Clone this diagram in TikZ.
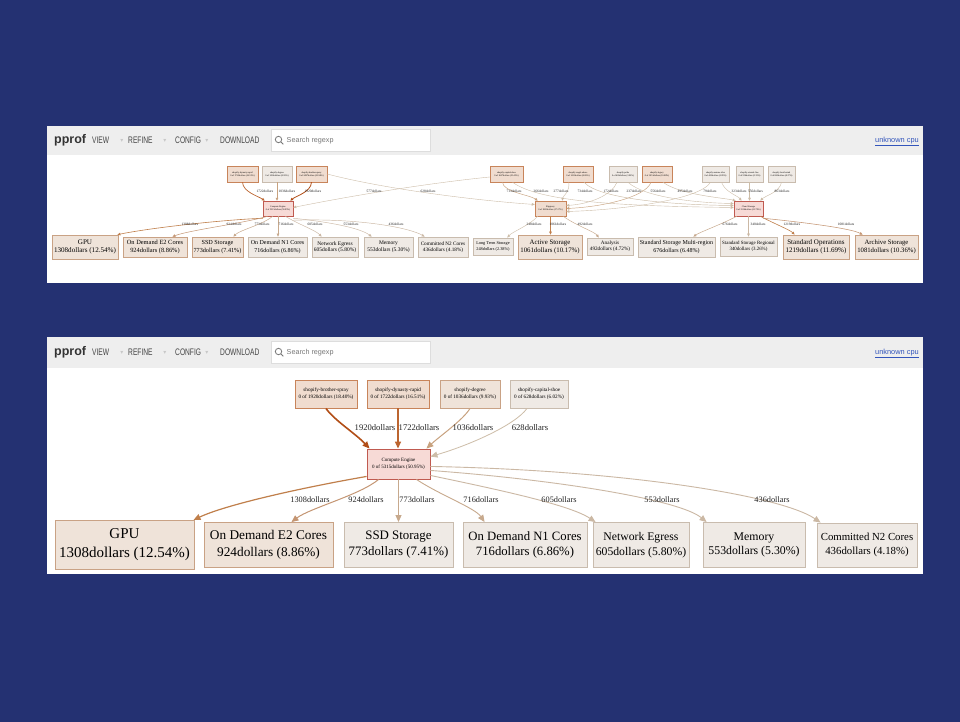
\documentclass[tikz,border=0pt]{standalone}
\usepackage{fontspec}
\setmainfont{Liberation Serif}
\newfontfamily\uisans{Liberation Sans}
\newfontfamily\symfont{DejaVu Sans}
\usetikzlibrary{arrows.meta}
\definecolor{navy}{HTML}{243172}
\definecolor{hdrgray}{HTML}{EEEEEE}
\definecolor{hdrtext}{HTML}{333333}
\definecolor{menutext}{HTML}{444444}
\definecolor{caretgray}{HTML}{C8C8C8}
\definecolor{boxgray}{HTML}{DDDDDD}
\definecolor{searchtext}{HTML}{777777}
\definecolor{linkblue}{HTML}{3355BB}
\definecolor{coldfill}{HTML}{EFEAE5}
\definecolor{coldline}{HTML}{C9BCAE}
\definecolor{warmfill}{HTML}{EFE3D9}
\definecolor{warmline}{HTML}{C9A285}
\definecolor{hotfill}{HTML}{F7DAD6}
\definecolor{hotline}{HTML}{C05A50}
\definecolor{srcfill}{HTML}{F0DCCF}
\definecolor{srcline}{HTML}{C8845A}
\definecolor{labtext}{HTML}{222222}
\definecolor{cA}{HTML}{B24E17}
\definecolor{cB}{HTML}{BC6530}
\definecolor{cC}{HTML}{C8A27F}
\definecolor{cD}{HTML}{CDBDA8}
\definecolor{cE}{HTML}{C07F4B}
\definecolor{cF}{HTML}{C49572}
\definecolor{cG}{HTML}{C7A98D}
\definecolor{cH}{HTML}{CBB8A4}
\newcommand\fsz[2]{\fontsize{#1}{#2}\selectfont}
\newcommand\menu[1]{\scalebox{0.7}[1]{#1}}
\tikzset{
  gbox/.style={draw, rectangle, inner sep=0pt, align=center, line width=0.9pt, text=black},
  cold/.style={gbox, fill=coldfill, draw=coldline},
  warm/.style={gbox, fill=warmfill, draw=warmline},
  hot/.style={gbox, fill=hotfill, draw=hotline},
  srcn/.style={gbox, fill=srcfill, draw=srcline},
  tiny/.style={line width=0.5pt},
  wh/.style 2 args={minimum width=#1, minimum height=#2},
  elab/.style={inner sep=0pt, text=labtext},
  arr/.style={-{Triangle[length=7pt,width=6pt]}},
  arrs/.style={-{Triangle[length=3pt,width=2.6pt]}},
  menuitem/.style={anchor=west, inner sep=0pt, text=menutext, font=\uisans\fsz{9.5}{9.5}},
  caret/.style={inner sep=0pt, text=caretgray, font=\symfont\fsz{6}{6}},
}
\newcommand\pprofheader[3]{%
  \fill[hdrgray] (47,#1) rectangle (923,#2);
  \node[anchor=west, inner sep=0pt, text=hdrtext, font=\uisans\bfseries\fsz{12.5}{12.5}] (#3pp) at (54,{(#1+#2)/2}) {pprof};
  \node[menuitem] (#3view) at (92,{(#1+#2)/2}) {\menu{VIEW}};
  \node[caret] (#3c1) at (122,{(#1+#2)/2}) {▾};
  \node[menuitem] (#3refine) at (128,{(#1+#2)/2}) {\menu{REFINE}};
  \node[caret] (#3c2) at (165,{(#1+#2)/2}) {▾};
  \node[menuitem] (#3config) at (175,{(#1+#2)/2}) {\menu{CONFIG}};
  \node[caret] (#3c3) at (207,{(#1+#2)/2}) {▾};
  \node[menuitem] (#3dl) at (220,{(#1+#2)/2}) {\menu{DOWNLOAD}};
  \node[draw=boxgray, fill=white, line width=0.6pt, inner sep=0pt, minimum width=159, minimum height=22] (#3sb) at (350.5,{(#1+#2)/2}) {};
  \draw[searchtext, line width=0.8pt] (278.5,{(#1+#2)/2-1}) circle (3.2);
  \draw[searchtext, line width=0.9pt] (280.8,{(#1+#2)/2+1.3}) -- (283.3,{(#1+#2)/2+3.8});
  \node[anchor=west, inner sep=0pt, text=searchtext, font=\uisans\fsz{7.2}{7.2}] (#3st) at (286.5,{(#1+#2)/2}) {Search regexp};
  \node[anchor=east, inner sep=0pt, text=linkblue, font=\uisans\fsz{7.4}{7.4}] (#3cpu) at (919,{(#1+#2)/2+1}) {\underline{unknown cpu}};
}
\begin{document}
\begin{tikzpicture}[x=1pt, y=-1pt]
\useasboundingbox (0,0) rectangle (960,722);
\fill[navy] (0,0) rectangle (960,722);
% ================= top screenshot =================
\fill[white] (47,126) rectangle (923,283);
\pprofheader{126}{155}{ta}
% sources
\node[srcn, tiny, wh={31}{16}, font=\fsz{2.3}{2.9}] (tS1) at (242.5,174) {shopify-dynasty-rapid\\0 of 1722dollars (16.51\%)};
\node[cold, tiny, wh={30}{16}, font=\fsz{2.3}{2.9}] (tS2) at (277,174) {shopify-degree\\0 of 1036dollars (9.93\%)};
\node[srcn, tiny, wh={31}{16}, font=\fsz{2.3}{2.9}] (tS3) at (311.5,174) {shopify-brother-spray\\0 of 2497dollars (23.94\%)};
\node[srcn, tiny, wh={33}{16}, font=\fsz{2.3}{2.9}] (tT1) at (506.5,174) {shopify-capital-shoe\\0 of 1607dollars (15.41\%)};
\node[srcn, tiny, wh={30}{16}, font=\fsz{2.3}{2.9}] (tT2) at (578,174) {shopify-angel-obese\\0 of 1011dollars (9.69\%)};
\node[cold, tiny, wh={28}{16}, font=\fsz{2.3}{2.9}] (tT3) at (623,174) {shopify-pride\\0 of 409dollars (3.92\%)};
\node[srcn, tiny, wh={30}{16}, font=\fsz{2.3}{2.9}] (tT4) at (657,174) {shopify-legacy\\0 of 1051dollars (10.08\%)};
\node[cold, tiny, wh={27}{16}, font=\fsz{2.3}{2.9}] (tT5) at (715.5,174) {shopify-mature-idea\\0 of 402dollars (3.85\%)};
\node[cold, tiny, wh={27}{16}, font=\fsz{2.3}{2.9}] (tT6) at (749.5,174) {shopify-eternal-line\\0 of 556dollars (5.33\%)};
\node[cold, tiny, wh={27}{16}, font=\fsz{2.3}{2.9}] (tT7) at (781.5,174) {shopify-lucid-mind\\0 of 863dollars (8.27\%)};
% middle
\node[hot, tiny, wh={30}{15}, font=\fsz{2.3}{2.9}] (tce) at (278,208.5) {Compute Engine\\0 of 5315dollars (50.95\%)};
\node[srcn, tiny, wh={31}{15}, font=\fsz{2.3}{2.9}] (tbq) at (550.5,208.5) {Bigquery\\0 of 1801dollars (17.27\%)};
\node[hot, tiny, wh={29}{15}, font=\fsz{2.3}{2.9}] (tcs) at (748.5,208.5) {Cloud Storage\\0 of 3316dollars (31.79\%)};
% leaves
\node[warm, line width=0.7pt, wh={66}{24}, font=\fsz{7.1}{8.6}] (tgpu) at (85,247) {GPU\\1308dollars (12.54\%)};
\node[warm, line width=0.7pt, wh={64}{20}, font=\fsz{6.4}{7.6}] (te2) at (155,247) {On Demand E2 Cores\\924dollars (8.86\%)};
\node[warm, line width=0.7pt, wh={51}{20}, font=\fsz{6.2}{7.4}] (tssd) at (217.5,247) {SSD Storage\\773dollars (7.41\%)};
\node[cold, line width=0.7pt, wh={59}{20}, font=\fsz{6.0}{7.2}] (tn1) at (277.5,247) {On Demand N1 Cores\\716dollars (6.86\%)};
\node[cold, line width=0.7pt, wh={46}{20}, font=\fsz{5.5}{6.6}] (teg) at (335,247) {Network Egress\\605dollars (5.80\%)};
\node[cold, line width=0.7pt, wh={49}{20}, font=\fsz{5.5}{6.6}] (tmem) at (388.5,247) {Memory\\553dollars (5.30\%)};
\node[cold, line width=0.7pt, wh={50}{20}, font=\fsz{5.2}{6.3}] (tn2) at (443,247) {Committed N2 Cores\\436dollars (4.18\%)};
\node[cold, line width=0.7pt, wh={40}{17}, font=\fsz{4.3}{5.2}] (tlts) at (493,246.5) {Long Term Storage\\248dollars (2.38\%)};
\node[warm, line width=0.7pt, wh={64}{24}, font=\fsz{6.8}{8.4}] (tact) at (550,247) {Active Storage\\1061dollars (10.17\%)};
\node[cold, line width=0.7pt, wh={46}{17}, font=\fsz{5.2}{6.2}] (tana) at (610,246.5) {Analysis\\492dollars (4.72\%)};
\node[cold, line width=0.7pt, wh={77}{20}, font=\fsz{6.0}{7.2}] (tmul) at (676.5,247) {Standard Storage Multi-region\\676dollars (6.48\%)};
\node[cold, line width=0.7pt, wh={57}{19}, font=\fsz{4.9}{5.9}] (treg) at (748.5,246.5) {Standard Storage Regional\\340dollars (3.26\%)};
\node[warm, line width=0.7pt, wh={66}{24}, font=\fsz{7.0}{8.6}] (tops) at (816,247) {Standard Operations\\1219dollars (11.69\%)};
\node[warm, line width=0.7pt, wh={63}{24}, font=\fsz{6.7}{8.4}] (tarc) at (886.5,247) {Archive Storage\\1081dollars (10.36\%)};
% top edges into compute engine
\begin{scope}[arrs]
\draw[cB, line width=0.7pt] (tS1.south) .. controls (243,192) and (258,196) .. ([xshift=2pt]tce.north west);
\draw[cC, line width=0.5pt] (tS2.south) -- (tS2.south |- tce.north);
\draw[cA, line width=0.8pt] (tS3.south) .. controls (311,192) and (296,196) .. ([xshift=-3pt]tce.north east);
\draw[cD, line width=0.4pt] ([yshift=-3pt]tT1.west) .. controls (420,184) and (340,198) .. ([yshift=1pt]tce.east);
\draw[cD, line width=0.4pt] (tS3.east) .. controls (380,188) and (470,200) .. ([yshift=4pt]tbq.west);
% into bigquery
\draw[cC, line width=0.45pt] ([xshift=-4pt]tT1.south) .. controls (503,192) and (530,195) .. ([xshift=3pt]tbq.north west);
\draw[cD, line width=0.4pt] ([xshift=6pt]tT2.south west) .. controls (570,192) and (563,196) .. ([xshift=-4pt]tbq.north east);
\draw[cD, line width=0.4pt] ([xshift=-6pt]tT3.south) .. controls (612,195) and (590,204) .. ([yshift=3pt]tbq.east);
\draw[cC, line width=0.45pt] ([xshift=-6pt]tT4.south) .. controls (645,198) and (600,207) .. (tbq.east);
\draw[cD, line width=0.4pt] ([xshift=-5pt]tT5.south) .. controls (700,200) and (620,210) .. ([yshift=-3pt]tbq.east);
% into cloud storage
\draw[cD, line width=0.4pt] ([xshift=6pt]tT1.south) .. controls (540,202) and (620,206) .. ([yshift=1pt]tcs.west);
\draw[cD, line width=0.45pt] ([xshift=6pt]tT2.south) .. controls (600,200) and (680,205) .. ([yshift=3pt]tcs.west);
\draw[cD, line width=0.4pt] ([xshift=5pt]tT3.south) .. controls (645,198) and (700,203) .. ([yshift=5pt]tcs.west);
\draw[cD, line width=0.45pt] ([xshift=6pt]tT4.south) .. controls (680,195) and (725,198) .. ([xshift=2pt]tcs.north west);
\draw[cD, line width=0.4pt] ([xshift=6pt]tT5.south) .. controls (725,192) and (738,196) .. ([xshift=-7pt]tcs.north);
\draw[cD, line width=0.45pt] (tT6.south) -- (tT6.south |- tcs.north);
\draw[cD, line width=0.45pt] (tT7.south) .. controls (780,192) and (765,196) .. ([xshift=-3pt]tcs.north east);
% out of compute engine
\draw[cE, line width=0.6pt] ([yshift=-2pt]tce.south west) .. controls (220,220) and (150,228) .. ([xshift=-1pt]tgpu.north east);
\draw[cF, line width=0.5pt] ([xshift=5pt]tce.south west) .. controls (240,224) and (190,230) .. ([xshift=-15pt]te2.north east);
\draw[cG, line width=0.5pt] ([xshift=10pt]tce.south west) .. controls (262,225) and (240,230) .. ([xshift=-10pt]tssd.north east);
\draw[cG, line width=0.5pt] (tce.south) -- (tce.south |- tn1.north);
\draw[cH, line width=0.45pt] ([xshift=-8pt]tce.south east) .. controls (300,225) and (315,230) .. ([xshift=10pt]teg.north west);
\draw[cH, line width=0.45pt] ([yshift=-2pt]tce.south east) .. controls (330,222) and (360,228) .. ([xshift=8pt]tmem.north west);
\draw[cH, line width=0.45pt] ([yshift=-4pt]tce.south east) .. controls (360,218) and (410,228) .. ([xshift=7pt]tn2.north west);
% out of bigquery
\draw[cD, line width=0.4pt] ([xshift=3pt]tbq.south west) .. controls (530,225) and (512,232) .. ([xshift=-6pt]tlts.north east);
\draw[cE, line width=0.6pt] (tbq.south) -- (tbq.south |- tact.north);
\draw[cG, line width=0.45pt] ([xshift=-3pt]tbq.south east) .. controls (575,225) and (595,232) .. ([xshift=12pt]tana.north west);
% out of cloud storage
\draw[cG, line width=0.5pt] ([xshift=3pt]tcs.south west) .. controls (720,225) and (700,232) .. ([xshift=-22pt]tmul.north east);
\draw[cH, line width=0.45pt] (tcs.south) -- (tcs.south |- treg.north);
\draw[cE, line width=0.6pt] ([xshift=-3pt]tcs.south east) .. controls (775,224) and (790,230) .. ([xshift=12pt]tops.north west);
\draw[cF, line width=0.55pt] ([yshift=-2pt]tcs.south east) .. controls (800,222) and (850,228) .. ([xshift=8pt]tarc.north west);
\end{scope}
% top edge labels
\begin{scope}[every node/.style={elab, font=\fsz{3.5}{3.5}}]
\node (tl1722) at (265,191) {1722dollars};
\node (tl1036) at (287,191) {1036dollars};
\node (tl1920) at (313,191) {1920dollars};
\node (tl577) at (374,191) {577dollars};
\node (tl628) at (428,191) {628dollars};
\node (tl713) at (514,191) {713dollars};
\node (tl266) at (541,191) {266dollars};
\node (tl277) at (561,191) {277dollars};
\node (tl734) at (585,191) {734dollars};
\node (tl172) at (611,191) {172dollars};
\node (tl237) at (634,191) {237dollars};
\node (tl556a) at (658,191) {556dollars};
\node (tl495) at (685,191) {495dollars};
\node (tl79) at (710,191) {79dollars};
\node (tl323) at (739,191) {323dollars};
\node (tl556b) at (755.5,191) {556dollars};
\node (tl863) at (782,191) {863dollars};
\node (tl1308) at (190,224) {1308dollars};
\node (tl924) at (234,224) {924dollars};
\node (tl773) at (262,224) {773dollars};
\node (tl716) at (286,224) {716dollars};
\node (tl605) at (315,224) {605dollars};
\node (tl553) at (351,224) {553dollars};
\node (tl436) at (396,224) {436dollars};
\node (tl248) at (534,224) {248dollars};
\node (tl1061) at (558,224) {1061dollars};
\node (tl492) at (585,224) {492dollars};
\node (tl676) at (730,224) {676dollars};
\node (tl340) at (758,224) {340dollars};
\node (tl1219) at (792,224) {1219dollars};
\node (tl1081) at (846,224) {1081dollars};
\end{scope}
% ================= bottom screenshot =================
\fill[white] (47,337) rectangle (923,574);
\pprofheader{337}{368}{ba}
\node[srcn, wh={62}{28}, font=\fsz{5.2}{6.6}] (bs) at (326,394) {shopify-brother-spray\\0 of 1920dollars (18.40\%)};
\node[srcn, wh={62}{28}, font=\fsz{5.2}{6.6}] (dr) at (398,394) {shopify-dynasty-rapid\\0 of 1722dollars (16.51\%)};
\node[warm, wh={60}{28}, font=\fsz{5.2}{6.6}] (dg) at (470,394) {shopify-degree\\0 of 1036dollars (9.93\%)};
\node[cold, wh={58}{28}, font=\fsz{5.2}{6.6}] (cs) at (539,394) {shopify-capital-shoe\\0 of 628dollars (6.02\%)};
\node[hot, wh={63}{30}, font=\fsz{5.0}{6.4}] (ce) at (398.5,464) {Compute Engine\\0 of 5315dollars (50.95\%)};
\node[warm, line width=1pt, wh={139}{49}, font=\fsz{15}{19}] (gpu) at (124.5,545) {GPU\\1308dollars (12.54\%)};
\node[warm, wh={129}{45}, font=\fsz{13.3}{16.5}] (e2) at (268.5,545) {On Demand E2 Cores\\924dollars (8.86\%)};
\node[cold, wh={109}{45}, font=\fsz{12.9}{16}] (ssd) at (398.5,545) {SSD Storage\\773dollars (7.41\%)};
\node[cold, wh={124}{45}, font=\fsz{12.7}{15.8}] (n1) at (525,545) {On Demand N1 Cores\\716dollars (6.86\%)};
\node[cold, wh={96}{45}, font=\fsz{11.7}{14.6}] (eg) at (641,545) {Network Egress\\605dollars (5.80\%)};
\node[cold, wh={102}{45}, font=\fsz{11.8}{14.6}] (mem) at (754,545) {Memory\\553dollars (5.30\%)};
\node[cold, wh={100}{44}, font=\fsz{10.8}{13.6}] (n2) at (867,545) {Committed N2 Cores\\436dollars (4.18\%)};
\begin{scope}[arr]
\draw[cA, line width=1.6pt] (bs.south) .. controls (334,420) and (356,434) .. ([xshift=3pt]ce.north west);
\draw[cB, line width=1.4pt] (dr.south) -- (dr.south |- ce.north);
\draw[cC, line width=1pt] (dg.south) .. controls (463,420) and (440,436) .. ([xshift=-4pt]ce.north east);
\draw[cD, line width=0.8pt] ([xshift=-12pt]cs.south) .. controls (515,425) and (470,445) .. ([yshift=-8pt]ce.north east);
\draw[cE, line width=1.2pt] ([yshift=3pt]ce.south west) .. controls (300,488) and (225,505) .. ([xshift=-1pt]gpu.north east);
\draw[cF, line width=1pt] ([xshift=12pt]ce.south west) .. controls (360,495) and (310,508) .. ([xshift=-42pt]e2.north east);
\draw[cG, line width=0.9pt] (ce.south) -- (ssd.north);
\draw[cG, line width=0.9pt] ([xshift=-14pt]ce.south east) .. controls (440,495) and (475,508) .. ([xshift=22pt]n1.north west);
\draw[cH, line width=0.9pt] ([yshift=4pt]ce.south east) .. controls (500,490) and (570,505) .. ([xshift=3pt]eg.north west);
\draw[cH, line width=0.9pt] ([yshift=9pt]ce.south east) .. controls (560,480) and (680,500) .. ([xshift=4pt]mem.north west);
\draw[cH, line width=0.9pt] ([yshift=13pt]ce.south east) .. controls (620,470) and (780,495) .. ([xshift=4pt]n2.north west);
\end{scope}
\begin{scope}[every node/.style={elab}]
\node[font=\fsz{8.6}{8.6}] (l1920) at (375,428) {1920dollars};
\node[font=\fsz{8.6}{8.6}] (l1722) at (419,428) {1722dollars};
\node[font=\fsz{8.6}{8.6}] (l1036) at (473,428) {1036dollars};
\node[font=\fsz{8.6}{8.6}] (l628) at (530,428) {628dollars};
\node[font=\fsz{8.3}{8.3}] (l1308) at (310,500) {1308dollars};
\node[font=\fsz{8.3}{8.3}] (l924) at (366,500) {924dollars};
\node[font=\fsz{8.3}{8.3}] (l773) at (417,500) {773dollars};
\node[font=\fsz{8.3}{8.3}] (l716) at (481,500) {716dollars};
\node[font=\fsz{8.3}{8.3}] (l605) at (559,500) {605dollars};
\node[font=\fsz{8.3}{8.3}] (l553) at (662,500) {553dollars};
\node[font=\fsz{8.3}{8.3}] (l436) at (772,500) {436dollars};
\end{scope}
\end{tikzpicture}
\end{document}
